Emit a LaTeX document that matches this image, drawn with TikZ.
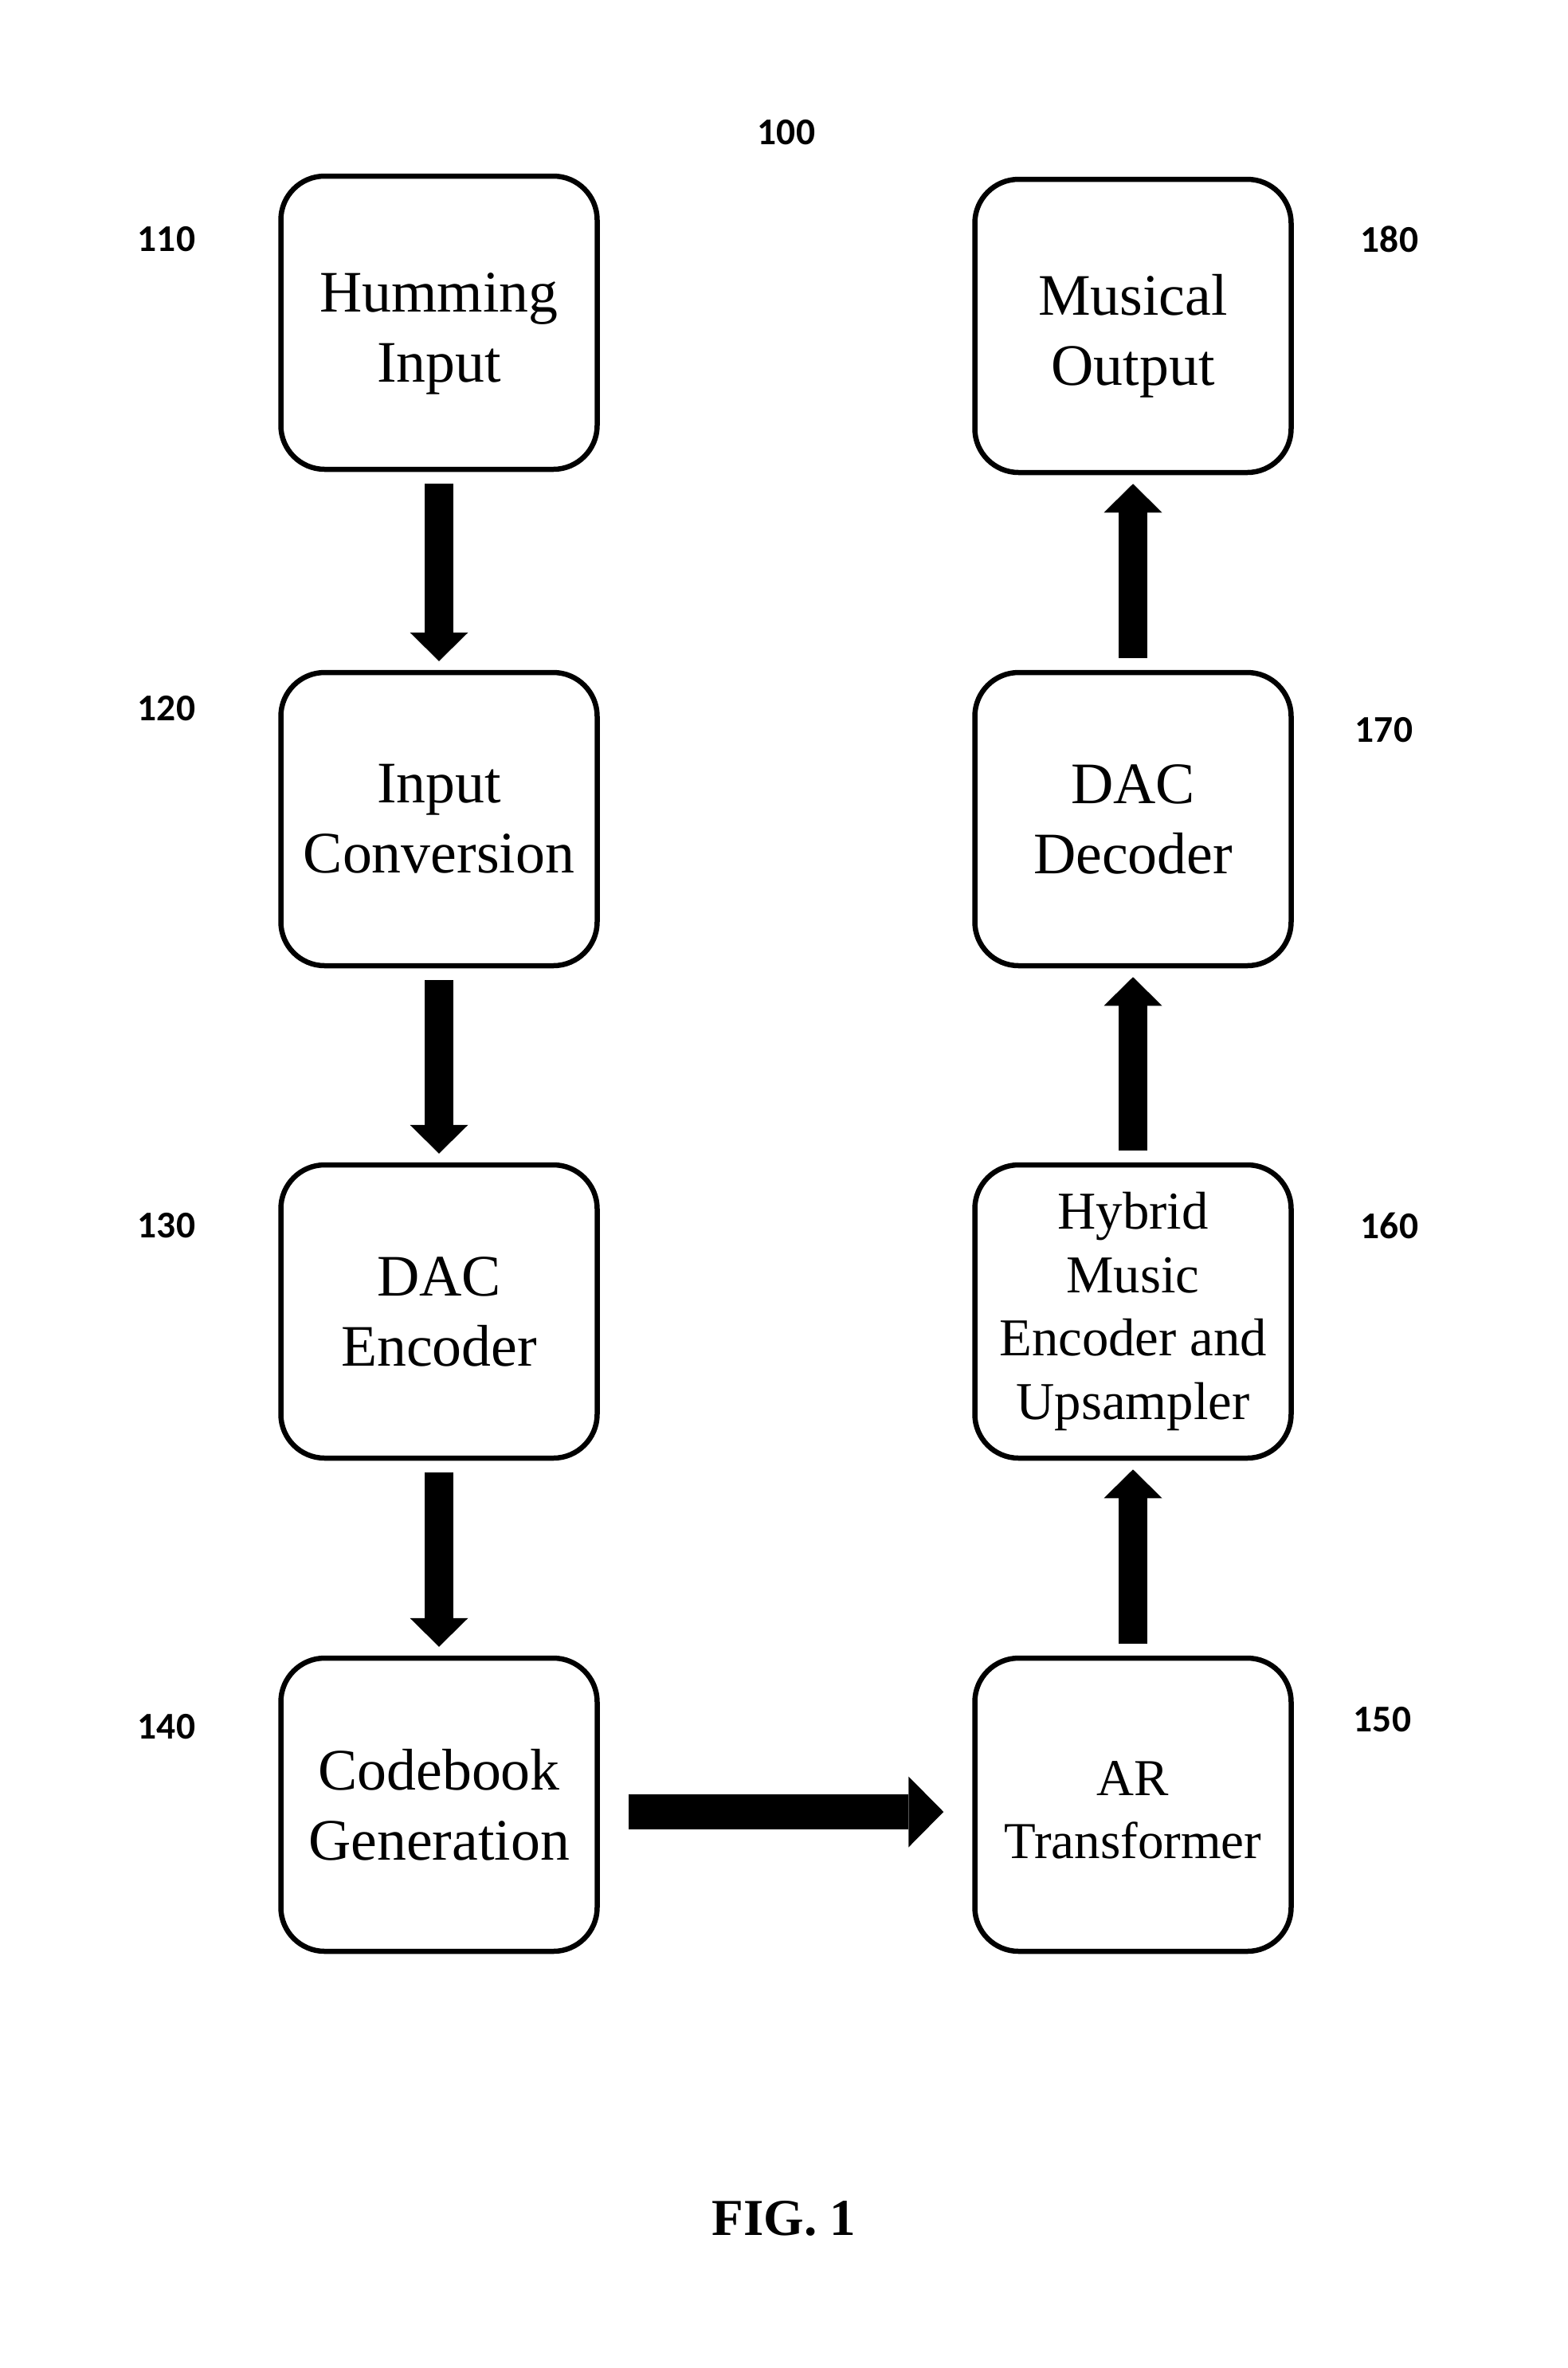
\documentclass[tikz,border=0pt]{standalone}
\usepackage{fontspec}
\setmainfont{Liberation Serif}
\newfontfamily\labelfont{Carlito}
\usetikzlibrary{arrows.meta}

\begin{document}
\begin{tikzpicture}[
    block/.style={rectangle, draw, rounded corners=5.5mm, line width=0.65mm, minimum width=3.97cm, minimum height=3.68cm, align=center, font=\fontsize{21}{25}\selectfont},
    reflabel/.style={font=\labelfont\bfseries\fontsize{13.5}{16}\selectfont},
    flow/.style={line width=3.6mm, -{Triangle[length=3.6mm, width=7.3mm, line width=0pt]}, shorten <=1.5mm, shorten >=1.1mm},
    bigflow/.style={line width=4.4mm, -{Triangle[length=4.4mm, width=8.9mm, line width=0pt]}, shorten <=3.6mm, shorten >=3.6mm}
]
    \useasboundingbox (0,0) rectangle (19.68,-29.72);

    \node at (5.51,-4.05) [block] (Humming) {\rule{0pt}{7.6mm}Humming\\Input};
    \node at (5.51,-10.28) [block] (Conversion) {Input\\Conversion};
    \node at (5.51,-16.46) [block] (Encoder) {DAC\\Encoder};
    \node at (5.51,-22.65) [block] (Codebook) {Codebook\\Generation};
    \node at (14.22,-22.65) [block, font=\fontsize{18.5}{22.5}\selectfont] (Transformer) {\rule{0pt}{5.6mm}AR\\Transformer};
    \node at (14.22,-16.46) [block, font=\fontsize{19}{22.7}\selectfont] (Hybrid) {Hybrid\\Music\\Encoder and\\Upsampler};
    \node at (14.22,-10.28) [block] (Decoder) {DAC\\Decoder};
    \node at (14.22,-4.09) [block] (Output) {\rule{0pt}{7.6mm}Musical\\Output};

    \node at (9.87,-1.66) [reflabel] (L100) {100};
    \node at (2.09,-3.00) [reflabel] (L110) {110};
    \node at (2.09,-8.89) [reflabel] (L120) {120};
    \node at (2.09,-15.38) [reflabel] (L130) {130};
    \node at (2.09,-21.67) [reflabel] (L140) {140};
    \node at (17.35,-21.58) [reflabel] (L150) {150};
    \node at (17.44,-15.38) [reflabel] (L160) {160};
    \node at (17.37,-9.16) [reflabel] (L170) {170};
    \node at (17.44,-3.00) [reflabel] (L180) {180};

    \node at (9.84,-27.84) [font=\bfseries\fontsize{18.5}{22}\selectfont] (Caption) {FIG. 1};

    \draw[flow] (Humming) -- (Conversion);
    \draw[flow] (Conversion) -- (Encoder);
    \draw[flow] (Encoder) -- (Codebook);
    \draw[bigflow] ([yshift=-0.9mm]Codebook.east) -- ([yshift=-0.9mm]Transformer.west);
    \draw[flow] (Transformer) -- (Hybrid);
    \draw[flow] (Hybrid) -- (Decoder);
    \draw[flow] (Decoder) -- (Output);
\end{tikzpicture}
\end{document}
